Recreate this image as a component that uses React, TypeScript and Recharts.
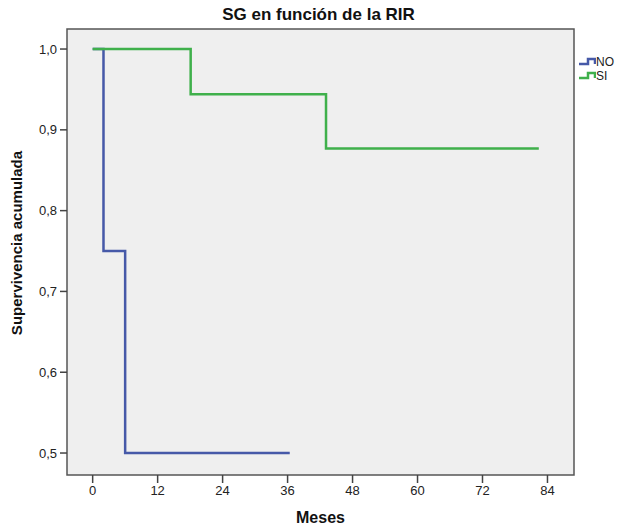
import React from "react";
import {
  LineChart,
  Line,
  XAxis,
  YAxis,
  CartesianGrid,
  ReferenceArea,
} from "recharts";

// Kaplan-Meier steps (months, cumulative survival)
const noMonths = [0, 2, 6, 36.4];
const noSurvival = [1.0, 0.75, 0.5, 0.5];
const siMonths = [0, 18.1, 43.1, 82.4];
const siSurvival = [1.0, 0.944, 0.877, 0.877];

const xTicks = [0, 12, 24, 36, 48, 60, 72, 84];
const yTicks = [0.5, 0.6, 0.7, 0.8, 0.9, 1.0];

const X_DOMAIN: [number, number] = [-4.74, 88.9];
const Y_DOMAIN: [number, number] = [0.4728, 1.0248];

const NO_COLOR = "#4659a8";
const SI_COLOR = "#3fb04b";
const FONT = "'Liberation Sans', Arial, sans-serif";

const noData = noMonths.map((m, i) => ({ m, s: noSurvival[i] }));
const siData = siMonths.map((m, i) => ({ m, s: siSurvival[i] }));

const StepIcon = ({ color }: { color: string }) => (
  <svg width={17} height={10} style={{ display: "block" }}>
    <polyline
      points="0,7 9,7 9,2 16,2 16,7"
      fill="none"
      stroke={color}
      strokeWidth={2.5}
    />
  </svg>
);

const YLabel = () => (
  <text
    x={22}
    y={243}
    transform="rotate(-90, 22, 243)"
    textAnchor="middle"
    fontFamily={FONT}
    fontWeight="bold"
    fontSize={15}
    fill="#111"
  >
    Supervivencia acumulada
  </text>
);

export default function App() {
  return (
    <div
      style={{
        position: "absolute",
        left: 0,
        top: 0,
        width: 623,
        height: 527,
        background: "#fff",
        fontFamily: FONT,
      }}
    >
      <div
        style={{
          position: "absolute",
          top: 5,
          left: 0,
          width: 637,
          textAlign: "center",
          fontWeight: "bold",
          fontSize: 17,
          color: "#111",
        }}
      >
        SG en función de la RIR
      </div>
      <LineChart
        width={623}
        height={527}
        margin={{ top: 29, right: 49, bottom: 0, left: 20 }}
      >
        <CartesianGrid horizontal={false} vertical={false} fill="#efefef" />
        <XAxis
          dataKey="m"
          type="number"
          domain={X_DOMAIN}
          ticks={xTicks}
          allowDataOverflow
          height={52}
          axisLine={false}
          tickSize={8}
          tickMargin={3}
          tickLine={{ stroke: "#444", strokeWidth: 1.5 }}
          tick={{ fontSize: 13, fill: "#222", fontFamily: FONT }}
          label={{
            value: "Meses",
            position: "insideBottom",
            offset: 4,
            fontSize: 16,
            fontWeight: "bold",
            fill: "#111",
            fontFamily: FONT,
          }}
        />
        <YAxis
          dataKey="s"
          type="number"
          domain={Y_DOMAIN}
          ticks={yTicks}
          allowDataOverflow
          width={47}
          axisLine={false}
          tickSize={7}
          tickMargin={3}
          tickLine={{ stroke: "#444", strokeWidth: 1.5 }}
          tick={{ fontSize: 13, fill: "#222", fontFamily: FONT }}
          tickFormatter={(v: number) => v.toFixed(1).replace(".", ",")}
          label={<YLabel />}
        />
        <ReferenceArea
          x1={X_DOMAIN[0]}
          x2={X_DOMAIN[1]}
          y1={Y_DOMAIN[0]}
          y2={Y_DOMAIN[1]}
          fill="none"
          stroke="#555"
          strokeWidth={1.5}
          ifOverflow="visible"
        />
        <Line
          data={noData}
          dataKey="s"
          type="stepAfter"
          stroke={NO_COLOR}
          strokeWidth={2.5}
          dot={false}
          isAnimationActive={false}
        />
        <Line
          data={siData}
          dataKey="s"
          type="stepAfter"
          stroke={SI_COLOR}
          strokeWidth={2.5}
          dot={false}
          isAnimationActive={false}
        />
      </LineChart>
      <div
        style={{
          position: "absolute",
          left: 579,
          top: 55,
          fontSize: 12,
          color: "#222",
          lineHeight: "14px",
        }}
      >
        <div style={{ display: "flex", alignItems: "center" }}>
          <StepIcon color={NO_COLOR} />
          <span>NO</span>
        </div>
        <div style={{ display: "flex", alignItems: "center" }}>
          <StepIcon color={SI_COLOR} />
          <span>SI</span>
        </div>
      </div>
    </div>
  );
}
